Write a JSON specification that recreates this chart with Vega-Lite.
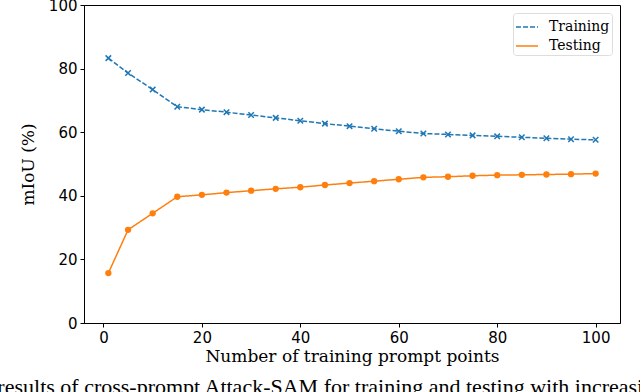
{
  "$schema": "https://vega.github.io/schema/vega-lite/v6.json",
  "width": 536,
  "height": 318,
  "autosize": {"type": "none"},
  "padding": {"left": 84, "top": 5, "right": 20, "bottom": 69},
  "background": "white",
  "title": {
    "text": "results of cross-prompt Attack-SAM for training and testing with increasing",
    "orient": "bottom",
    "anchor": "start",
    "frame": "bounds",
    "font": "Liberation Serif",
    "fontSize": 22,
    "fontWeight": "normal",
    "color": "black",
    "offset": 13,
    "dx": -22
  },
  "config": {
    "view": {"stroke": "black", "strokeWidth": 1},
    "axis": {
      "labelFont": "DejaVu Sans",
      "labelFontSize": 15,
      "labelColor": "black",
      "titleFont": "DejaVu Serif",
      "titleFontSize": 17,
      "titleFontWeight": "normal",
      "titleColor": "black",
      "grid": false,
      "domainColor": "black",
      "tickColor": "black",
      "tickSize": 4,
      "labelPadding": 3
    }
  },
  "data": {
    "values": [
      {"x": 1, "y": 83.3, "series": "Training"},
      {"x": 5, "y": 78.6, "series": "Training"},
      {"x": 10, "y": 73.4, "series": "Training"},
      {"x": 15, "y": 68.0, "series": "Training"},
      {"x": 20, "y": 67.1, "series": "Training"},
      {"x": 25, "y": 66.3, "series": "Training"},
      {"x": 30, "y": 65.4, "series": "Training"},
      {"x": 35, "y": 64.5, "series": "Training"},
      {"x": 40, "y": 63.6, "series": "Training"},
      {"x": 45, "y": 62.7, "series": "Training"},
      {"x": 50, "y": 61.9, "series": "Training"},
      {"x": 55, "y": 61.1, "series": "Training"},
      {"x": 60, "y": 60.3, "series": "Training"},
      {"x": 65, "y": 59.6, "series": "Training"},
      {"x": 70, "y": 59.3, "series": "Training"},
      {"x": 75, "y": 59.0, "series": "Training"},
      {"x": 80, "y": 58.7, "series": "Training"},
      {"x": 85, "y": 58.4, "series": "Training"},
      {"x": 90, "y": 58.1, "series": "Training"},
      {"x": 95, "y": 57.8, "series": "Training"},
      {"x": 100, "y": 57.6, "series": "Training"},
      {"x": 1, "y": 15.7, "series": "Testing"},
      {"x": 5, "y": 29.3, "series": "Testing"},
      {"x": 10, "y": 34.5, "series": "Testing"},
      {"x": 15, "y": 39.7, "series": "Testing"},
      {"x": 20, "y": 40.3, "series": "Testing"},
      {"x": 25, "y": 41.0, "series": "Testing"},
      {"x": 30, "y": 41.6, "series": "Testing"},
      {"x": 35, "y": 42.2, "series": "Testing"},
      {"x": 40, "y": 42.7, "series": "Testing"},
      {"x": 45, "y": 43.4, "series": "Testing"},
      {"x": 50, "y": 44.0, "series": "Testing"},
      {"x": 55, "y": 44.6, "series": "Testing"},
      {"x": 60, "y": 45.2, "series": "Testing"},
      {"x": 65, "y": 45.8, "series": "Testing"},
      {"x": 70, "y": 46.0, "series": "Testing"},
      {"x": 75, "y": 46.3, "series": "Testing"},
      {"x": 80, "y": 46.5, "series": "Testing"},
      {"x": 85, "y": 46.6, "series": "Testing"},
      {"x": 90, "y": 46.7, "series": "Testing"},
      {"x": 95, "y": 46.8, "series": "Testing"},
      {"x": 100, "y": 47.0, "series": "Testing"}
    ]
  },
  "encoding": {
    "x": {
      "field": "x",
      "type": "quantitative",
      "scale": {"domain": [-3.95, 104.95], "nice": false, "zero": false},
      "axis": {"values": [0, 20, 40, 60, 80, 100], "title": "Number of training prompt points", "titlePadding": 3}
    },
    "y": {
      "field": "y",
      "type": "quantitative",
      "scale": {"domain": [0, 100], "nice": false},
      "axis": {"values": [0, 20, 40, 60, 80, 100], "title": "mIoU (%)", "titlePadding": 11}
    }
  },
  "layer": [
    {
      "mark": {"type": "line", "strokeWidth": 1.5},
      "encoding": {
        "color": {
          "field": "series",
          "type": "nominal",
          "scale": {"domain": ["Training", "Testing"], "range": ["#1f77b4", "#ff7f0e"]},
          "legend": {
            "title": null,
            "orient": "top-right",
            "offset": 8,
            "symbolType": "stroke",
            "symbolSize": 484,
            "symbolStrokeWidth": 1.5,
            "labelFont": "DejaVu Serif",
            "labelFontSize": 14,
            "labelColor": "black",
            "labelOffset": 10,
            "fillColor": "white",
            "strokeColor": "#dddddd",
            "cornerRadius": 3,
            "padding": 2,
            "rowPadding": 0
          }
        },
        "strokeDash": {
          "field": "series",
          "type": "nominal",
          "scale": {"domain": ["Training", "Testing"], "range": [[5, 2], [1, 0]]},
          "legend": {
            "title": null,
            "orient": "top-right"
          }
        }
      }
    },
    {
      "transform": [{"filter": "datum.series === 'Training'"}],
      "mark": {"type": "point", "shape": "M-1,-1L1,1M1,-1L-1,1", "filled": false, "color": "#1f77b4", "strokeWidth": 1.5, "size": 30, "opacity": 1}
    },
    {
      "transform": [{"filter": "datum.series === 'Testing'"}],
      "mark": {"type": "point", "shape": "circle", "filled": true, "color": "#ff7f0e", "size": 40, "opacity": 1}
    }
  ]
}
